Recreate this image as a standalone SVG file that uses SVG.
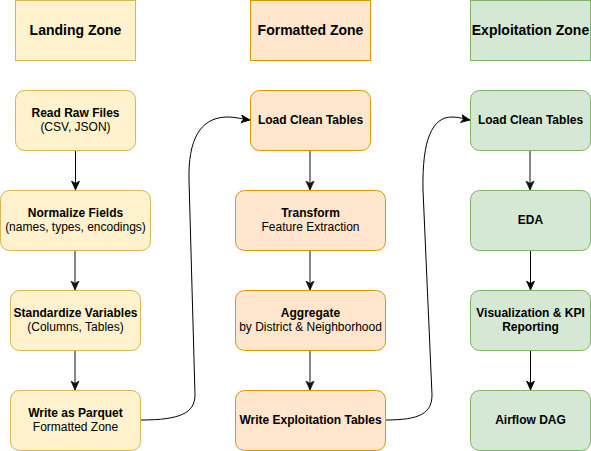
<svg xmlns="http://www.w3.org/2000/svg" width="591" height="451" viewBox="0 0 591 451">
<defs>
<marker id="arr" markerUnits="userSpaceOnUse" markerWidth="10" markerHeight="10" viewBox="0 0 10 10" refX="9" refY="5" orient="auto">
<path d="M0,1 L9,5 L0,9 L2.5,5 z" fill="#000" stroke="#000" stroke-width="0.8"/>
</marker>
<marker id="arrg" markerUnits="userSpaceOnUse" markerWidth="10" markerHeight="10" viewBox="0 0 10 10" refX="9" refY="5" orient="auto">
<path d="M0,1 L9,5 L0,9 L2.5,5 z" fill="#111" stroke="#111" stroke-width="0.8"/>
</marker>
</defs>
<style>
.land{fill:#fff2cc;stroke:#d6b656;stroke-width:1}
.form{fill:#ffe6cc;stroke:#d79b00;stroke-width:1}
.expl{fill:#d5e8d4;stroke:#82b366;stroke-width:1}
text{font-family:"Liberation Sans",Arial,Helvetica,sans-serif;fill:#000;text-anchor:middle}
.h{font-size:14px;font-weight:bold}
.b{font-size:12px;font-weight:bold}
.n{font-size:12px}
.e{fill:none;stroke:#000;stroke-width:1}
.eg{fill:none;stroke:#555;stroke-width:1.4}
</style>
<g id="landing-zone"><rect class="land" x="15.5" y="0.5" width="120" height="60"/><text class="h" x="75.5" y="35">Landing Zone</text></g>
<g id="formatted-zone"><rect class="form" x="250.5" y="0.5" width="120" height="60"/><text class="h" x="310.5" y="35">Formatted Zone</text></g>
<g id="exploitation-zone"><rect class="expl" x="470.5" y="0.5" width="120" height="60"/><text class="h" x="530.5" y="35">Exploitation Zone</text></g>

<g id="read-raw"><rect class="land" x="15.5" y="90.5" width="120" height="60" rx="9"/><text class="b" x="75.5" y="117">Read Raw Files</text><text class="n" x="75.5" y="131">(CSV, JSON)</text></g>
<g id="normalize"><rect class="land" x="0.5" y="190.5" width="150" height="60" rx="9"/><text class="b" x="75.5" y="217">Normalize Fields</text><text class="n" x="75.5" y="231">(names, types, encodings)</text></g>
<g id="standardize"><rect class="land" x="10.5" y="290.5" width="130" height="60" rx="9"/><text class="b" x="75.5" y="317">Standardize Variables</text><text class="n" x="75.5" y="331">(Columns, Tables)</text></g>
<g id="write-parquet"><rect class="land" x="10.5" y="390.5" width="130" height="60" rx="9"/><text class="b" x="75.5" y="417">Write as Parquet</text><text class="n" x="75.5" y="431">Formatted Zone</text></g>

<g id="load-clean-f"><rect class="form" x="250.5" y="90.5" width="120" height="60" rx="9"/><text class="b" x="310.5" y="124">Load Clean Tables</text></g>
<g id="transform"><rect class="form" x="235.5" y="190.5" width="150" height="60" rx="9"/><text class="b" x="310.5" y="217">Transform</text><text class="n" x="310.5" y="231">Feature Extraction</text></g>
<g id="aggregate"><rect class="form" x="235.5" y="290.5" width="150" height="60" rx="9"/><text class="b" x="310.5" y="317">Aggregate</text><text class="n" x="310.5" y="331">by District &amp; Neighborhood</text></g>
<g id="write-expl"><rect class="form" x="235.5" y="390.5" width="150" height="60" rx="9"/><text class="b" x="310.5" y="424">Write Exploitation Tables</text></g>

<g id="load-clean-e"><rect class="expl" x="470.5" y="90.5" width="120" height="60" rx="9"/><text class="b" x="530.5" y="124">Load Clean Tables</text></g>
<g id="eda"><rect class="expl" x="470.5" y="190.5" width="120" height="60" rx="9"/><text class="b" x="530.5" y="224">EDA</text></g>
<g id="viz"><rect class="expl" x="470.5" y="290.5" width="120" height="60" rx="9"/><text class="b" x="530.5" y="317">Visualization &amp; KPI</text><text class="b" x="530.5" y="331">Reporting</text></g>
<g id="airflow"><rect class="expl" x="470.5" y="390.5" width="120" height="60" rx="9"/><text class="b" x="530.5" y="424">Airflow DAG</text></g>

<g id="connectors">
<path class="e" d="M75.5,151 V190" marker-end="url(#arr)"/>
<path class="eg" d="M75,251 V290" marker-end="url(#arrg)"/>
<path class="eg" d="M75,351 V390" marker-end="url(#arrg)"/>
<path class="eg" d="M310,151 V190" marker-end="url(#arrg)"/>
<path class="eg" d="M310,251 V290" marker-end="url(#arrg)"/>
<path class="eg" d="M310,351 V390" marker-end="url(#arrg)"/>
<path class="eg" d="M530,151 V190" marker-end="url(#arrg)"/>
<path class="e" d="M530.5,251 V290" marker-end="url(#arr)"/>
<path class="e" d="M530.5,351 V390" marker-end="url(#arr)"/>
<path class="e" d="M141,420 C180,420 195,413 195,395 L189,180 C188,140 200,118 226,117 C236,117 242,119 250,120" marker-end="url(#arr)"/>
<path class="e" d="M386,420 C420,420 432,413 432,395 L423,190 C422,140 432,117 452,117 C459,117 464,119 470,120" marker-end="url(#arr)"/>
</g>
</svg>
